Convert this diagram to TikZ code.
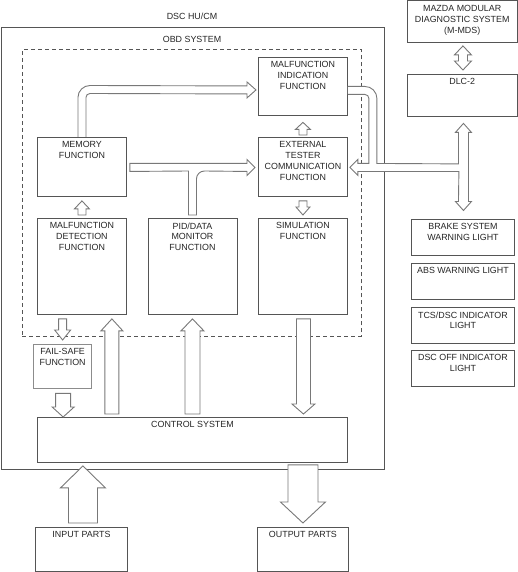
\documentclass[tikz,border=0pt]{standalone}
\usepackage{fontspec}
\setmainfont{Liberation Sans}
\usepackage{tikz}
\usetikzlibrary{calc}

\definecolor{boxcol}{RGB}{85,85,85}
\definecolor{arrcol}{RGB}{120,120,120}

\tikzset{
  box/.style={draw=boxcol, line width=0.9, anchor=north west, inner sep=0},
  lbl/.style={font=\fontsize{8.9}{10.8}\selectfont, align=center, inner xsep=1, inner ysep=4.5, text=black!85},
  arrowline/.style={draw=arrcol, line width=0.9, fill=white},
}

% hollow block arrow: tail, tip, half shaft, half head, head length
\newcommand{\blockarrow}[5]{%
  \path #1 coordinate (bas) #2 coordinate (bat);
  \coordinate (bah) at ($(bat)!#5!(bas)$);
  \draw[arrowline] ($(bas)!#3!90:(bat)$) -- ($(bah)!#3!90:(bat)$) -- ($(bah)!#4!90:(bat)$) -- (bat)
    -- ($(bah)!#4!-90:(bat)$) -- ($(bah)!#3!-90:(bat)$) -- ($(bas)!#3!-90:(bat)$) -- cycle;
}

\begin{document}
\begin{tikzpicture}[x=1pt,y=1pt,yscale=-1]
\useasboundingbox (0,0) rectangle (517,572);

%Shape: Frames
\node[box, minimum width=382.5, minimum height=442] (hucm) at (1,27) {};
\node[box, dash pattern=on 4pt off 3pt, minimum width=339, minimum height=286.5] (obd) at (22,49.5) {};
% Text Node
\node[lbl] (hucmlbl) at (192,16.5) {DSC HU/CM};
% Text Node
\node[lbl] (obdlbl) at (192,39) {OBD SYSTEM};

%Shape: Function blocks
\node[box, minimum width=89, minimum height=58, label={[lbl,anchor=north]north:{MALFUNCTION\\INDICATION\\FUNCTION}}] (malind) at (258,57) {};
\node[box, minimum width=89, minimum height=59, label={[lbl,anchor=north]north:{EXTERNAL\\TESTER\\COMMUNICATION\\FUNCTION}}] (ext) at (258,137) {};
\node[box, minimum width=89, minimum height=96, label={[lbl,anchor=north]north:{SIMULATION\\FUNCTION}}] (sim) at (258,218) {};
\node[box, minimum width=89, minimum height=59, label={[lbl,anchor=north]north:{MEMORY\\FUNCTION}}] (mem) at (37,137) {};
\node[box, minimum width=89, minimum height=96, label={[lbl,anchor=north]north:{MALFUNCTION\\DETECTION\\FUNCTION}}] (det) at (37,218) {};
\node[box, minimum width=89, minimum height=96, label={[lbl,anchor=north]north:{PID/DATA\\MONITOR\\FUNCTION}}] (pid) at (147.5,218) {};
\node[box, draw=black!45, line width=1.3, minimum width=58, minimum height=44, label={[lbl,anchor=north]north:{FAIL-SAFE\\FUNCTION}}] (fail) at (33,344) {};
\node[box, minimum width=310, minimum height=45, label={[lbl,anchor=north]north:CONTROL SYSTEM}] (ctrl) at (37,417) {};
\node[box, minimum width=92, minimum height=44, label={[lbl,anchor=north]north:INPUT PARTS}] (input) at (35,527) {};
\node[box, minimum width=91, minimum height=44, label={[lbl,anchor=north]north:OUTPUT PARTS}] (output) at (257,527) {};

%Shape: Outside blocks
\node[box, minimum width=109.5, minimum height=41.5, label={[lbl,anchor=north]north:{MAZDA MODULAR\\DIAGNOSTIC SYSTEM\\(M-MDS)}}] (mazda) at (407,0.5) {};
\node[box, minimum width=109.5, minimum height=42, label={[lbl,anchor=north]north:DLC-2}] (dlc) at (407,74) {};
\node[box, minimum width=103, minimum height=36, label={[lbl,anchor=north]north:{BRAKE SYSTEM\\WARNING LIGHT}}] (brake) at (411,219) {};
\node[box, minimum width=103, minimum height=36, label={[lbl,anchor=north]north:ABS WARNING LIGHT}] (abs) at (411,263) {};
\node[box, minimum width=103, minimum height=36, label={[lbl,anchor=north]north:{TCS/DSC INDICATOR\\LIGHT}}] (tcs) at (411,307) {};
\node[box, minimum width=103, minimum height=36, label={[lbl,anchor=north]north:{DSC OFF INDICATOR\\LIGHT}}] (dscoff) at (411,350) {};

%Block Arrows: small ones
\blockarrow{($(det.north)+(0,-3)$)}{($(mem.south)+(0,4)$)}{4pt}{7.5pt}{8pt}
\blockarrow{($(ext.north)+(0,-2)$)}{($(malind.south)+(0,6.5)$)}{4pt}{7.5pt}{7pt}
\blockarrow{($(ext.south)+(0,4)$)}{($(sim.north)+(0,-3)$)}{4pt}{7pt}{8pt}
\blockarrow{($(fail.north |- det.south)+(0,4)$)}{($(fail.north)+(0,-4)$)}{4pt}{8pt}{10pt}
\blockarrow{($(fail.south)+(0.5,4)$)}{($(fail.south |- ctrl.north)+(0.5,0)$)}{7.5pt}{11pt}{10pt}

%Block Arrows: control system
\blockarrow{($(det.south east |- ctrl.north)+(-15,-3)$)}{($(det.south east)+(-15,4)$)}{7pt}{11pt}{12pt}
\blockarrow{($(pid.south |- ctrl.north)+(0,-3)$)}{($(pid.south)+(0,4)$)}{7.5pt}{11.5pt}{12pt}
\blockarrow{($(sim.south)+(0.5,4)$)}{($(sim.south |- ctrl.north)+(0.5,-3)$)}{7pt}{11.5pt}{10pt}
\blockarrow{($(input.north)+(1.5,-4)$)}{($(input.north |- ctrl.south)+(1.5,3)$)}{14.5pt}{22.5pt}{22pt}
\blockarrow{($(output.north |- ctrl.south)+(0,2)$)}{($(output.north)+(0,-4)$)}{15pt}{22.5pt}{21pt}

%Block Arrow: memory to malfunction indication
\draw[arrowline] ($(mem.north)+(-4,0)$) -- ++(0,-39.5) arc[start angle=180,end angle=270,radius=12]
  -- ($(malind.west)+(-11,-0.5)$) -- ++(0,-4) -- ++(9,8) -- ++(-9,8) -- ++(0,-4)
  -- ($(mem.north)+(8,-43.5)$) arc[start angle=270,end angle=180,radius=4] -- ($(mem.north)+(4,0)$);

%Block Arrow: memory and PID/data to external tester
\draw[arrowline] ($(mem.east)+(3,-3.5)$) -- ($(ext.west)+(-11,-3.5)$) -- ++(0,-4) -- ++(8,8) -- ++(-8,8) -- ++(0,-4)
  -- ($(pid.north)+(12,-47)$) arc[start angle=270,end angle=180,radius=8] -- ($(pid.north)+(4,-3)$)
  -- ($(pid.north)+(-4,-3)$) -- ($(pid.north)+(-4,-47)$) -- ($(mem.east)+(3,4.5)$) -- cycle;

%Block Arrow: M-MDS and DLC-2
\coordinate (mz) at ($(mazda.south)+(0.75,3)$);
\coordinate (dl) at ($(dlc.north)+(0.75,-4)$);
\draw[arrowline] (mz) -- ++(8.5,9) -- ++(-4,0) -- ($(dl)+(4.5,-9)$) -- ++(4,0) -- (dl) -- ++(-8.5,-9) -- ++(4,0)
  -- ($(mz)+(-4.5,9)$) -- ++(-4,0) -- cycle;

%Block Arrow: DLC-2 bus
\coordinate (up) at ($(dlc.south)+(1.25,6.5)$);
\coordinate (dn) at ($(brake.north)+(0.5,-8.5)$);
\coordinate (lt) at ($(ext.east)+(2,0.5)$);
\draw[arrowline] (malind.east) -- ++(17,0) arc[start angle=270,end angle=360,radius=12]
  -- ($(lt)+(27,-4)$) -- ($(up)+(-5,40.5)$) -- ($(up)+(-5,9)$) -- ++(-3,0) -- (up) -- ++(8,9) -- ++(-3,0)
  -- ($(dn)+(5,-9)$) -- ++(3,0) -- (dn) -- ++(-8,-9) -- ++(3,0)
  -- ($(lt)+(109,4)$) -- ($(lt)+(8,4)$) -- ++(0,4) -- (lt) -- ++(8,-8) -- ++(0,4)
  -- ($(lt)+(19,-4)$) -- ++(0,-65) arc[start angle=0,end angle=-90,radius=4] -- ($(malind.east)+(0,8)$);

\end{tikzpicture}
\end{document}
